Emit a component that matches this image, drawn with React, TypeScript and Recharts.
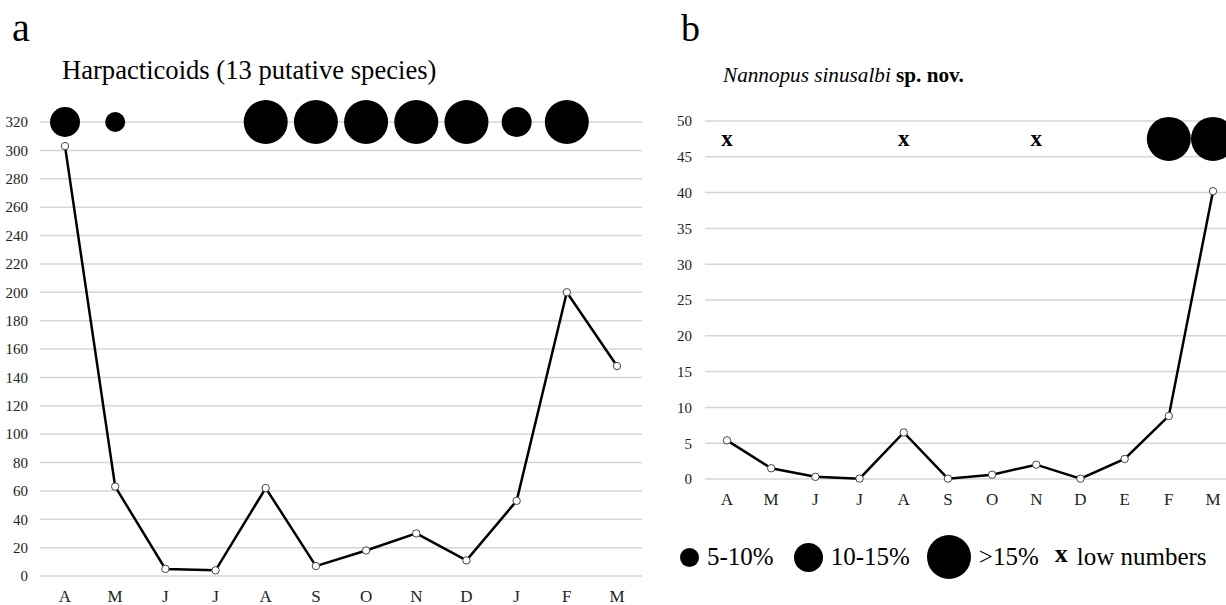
import React from 'react';
import { LineChart, Line, XAxis, YAxis, CartesianGrid } from 'recharts';

const monthsA = ['A', 'M', 'J', 'J', 'A', 'S', 'O', 'N', 'D', 'J', 'F', 'M'];
const harpValues = [303, 63, 5, 4, 62, 7, 18, 30, 11, 53, 200, 148];
const harpClass = ['10-15%', '5-10%', '', '', '>15%', '>15%', '>15%', '>15%', '>15%', '10-15%', '>15%', ''];
const harpTicks = [0, 20, 40, 60, 80, 100, 120, 140, 160, 180, 200, 220, 240, 260, 280, 300, 320];
const harpMarkLevel = 320;

const monthsB = ['A', 'M', 'J', 'J', 'A', 'S', 'O', 'N', 'D', 'E', 'F', 'M'];
const nannoValues = [5.4, 1.5, 0.3, 0.05, 6.5, 0.05, 0.6, 2.0, 0.05, 2.8, 8.8, 40.2];
const nannoClass = ['x', '', '', '', 'x', '', '', 'x', '', '', '>15%', '>15%'];
const nannoTicks = [0, 5, 10, 15, 20, 25, 30, 35, 40, 45, 50];
const nannoMarkLevel = 47.5;

const legendItems = ['5-10%', '10-15%', '>15%', 'x'];
const legendLabels = ['5-10%', '10-15%', '>15%', 'low numbers'];

const radius: Record<string, number> = { '5-10%': 10, '10-15%': 15, '>15%': 22 };
const legendRadius: Record<string, number> = { '5-10%': 9.5, '10-15%': 14.5, '>15%': 22 };

const FONT = '"Liberation Serif", "Times New Roman", serif';

const dataA = monthsA.map((m, i) => ({ m, v: harpValues[i], mark: harpMarkLevel, cls: harpClass[i] }));
const dataB = monthsB.map((m, i) => ({ m, v: nannoValues[i], mark: nannoMarkLevel, cls: nannoClass[i] }));

const renderMark = (props: any) => {
  const { cx, cy, payload, index } = props;
  const cls = payload && payload.cls;
  if (!cls || cx == null || cy == null) return <g key={`mk-${index}`} />;
  if (cls === 'x') {
    return (
      <text key={`mk-${index}`} x={cx} y={cy + 7} textAnchor="middle" fontFamily={FONT} fontSize={23} fontWeight="bold" fill="#000">
        x
      </text>
    );
  }
  return <circle key={`mk-${index}`} cx={cx} cy={cy} r={radius[cls]} fill="#000" />;
};

const pointDot = { r: 3.7, fill: '#fff', stroke: '#444', strokeWidth: 1 };

const yTickStyle = { fontFamily: FONT, fontSize: 15, fill: '#222' };
const xTickStyle = { fontFamily: FONT, fontSize: 17, fill: '#222' };

const LegendBlock = () => (
  <div style={{ position: 'absolute', left: 680, top: 535, height: 44, display: 'flex', alignItems: 'center', fontFamily: FONT, fontSize: 25, color: '#000', whiteSpace: 'nowrap' }}>
    {legendItems.map((k, i) => (
      <div key={k} style={{ display: 'flex', alignItems: 'center', marginRight: i === 0 ? 20 : i === 1 ? 17 : 16 }}>
        {k === 'x' ? (
          <span style={{ fontWeight: 'bold', fontSize: 26, marginRight: 9, lineHeight: '20px', position: 'relative', top: -3 }}>x</span>
        ) : (
          <svg width={legendRadius[k] * 2} height={legendRadius[k] * 2} style={{ marginRight: 8 }}>
            <circle cx={legendRadius[k]} cy={legendRadius[k]} r={legendRadius[k]} fill="#000" />
          </svg>
        )}
        <span>{legendLabels[i]}</span>
      </div>
    ))}
  </div>
);

export default function App() {
  return (
    <div style={{ position: 'absolute', left: 0, top: 0, width: 1226, height: 605, overflow: 'hidden', background: '#fff' }}>
      <div style={{ position: 'absolute', left: 12, top: 8, fontFamily: FONT, fontSize: 40, lineHeight: '40px' }}>a</div>
      <div style={{ position: 'absolute', left: 62, top: 55, fontFamily: FONT, fontSize: 26.6, lineHeight: '30px', whiteSpace: 'nowrap' }}>
        Harpacticoids (13 putative species)
      </div>
      <div style={{ position: 'absolute', left: 681, top: 8, fontFamily: FONT, fontSize: 38, lineHeight: '40px' }}>b</div>
      <div style={{ position: 'absolute', left: 723, top: 61, fontFamily: FONT, fontSize: 21.2, lineHeight: '28px', whiteSpace: 'nowrap' }}>
        <i>Nannopus sinusalbi</i> <b>sp. nov.</b>
      </div>

      <div style={{ position: 'absolute', left: 0, top: 0 }}>
        <LineChart width={645} height={605} data={dataA} margin={{ top: 122, right: 3, bottom: 0, left: 0 }}>
          <CartesianGrid vertical={false} stroke="#d6d6d6" strokeWidth={1.5} />
          <XAxis dataKey="m" axisLine={false} tickLine={false} tickSize={0} tickMargin={14} height={29} tick={xTickStyle} interval={0} padding={{ left: 25, right: 25 }} />
          <YAxis domain={[0, 320]} ticks={harpTicks} axisLine={false} tickLine={false} tickSize={0} tickMargin={12} width={40} tick={yTickStyle} interval={0} />
          <Line dataKey="v" stroke="#000" strokeWidth={2.5} dot={pointDot} isAnimationActive={false} />
          <Line dataKey="mark" stroke="none" dot={renderMark} activeDot={false} isAnimationActive={false} legendType="none" />
        </LineChart>
      </div>

      <div style={{ position: 'absolute', left: 650, top: 0 }}>
        <LineChart width={590} height={605} data={dataB} margin={{ top: 121, right: 5, bottom: 96, left: 0 }}>
          <CartesianGrid vertical={false} stroke="#d6d6d6" strokeWidth={1.5} />
          <XAxis dataKey="m" axisLine={false} tickLine={false} tickSize={0} tickMargin={14} height={30} tick={xTickStyle} interval={0} padding={{ left: 22, right: 22 }} />
          <YAxis domain={[0, 50]} ticks={nannoTicks} axisLine={false} tickLine={false} tickSize={0} tickMargin={13} width={55} tick={yTickStyle} interval={0} />
          <Line dataKey="v" stroke="#000" strokeWidth={2.5} dot={pointDot} isAnimationActive={false} />
          <Line dataKey="mark" stroke="none" dot={renderMark} activeDot={false} isAnimationActive={false} legendType="none" />
        </LineChart>
      </div>

      <LegendBlock />
    </div>
  );
}
